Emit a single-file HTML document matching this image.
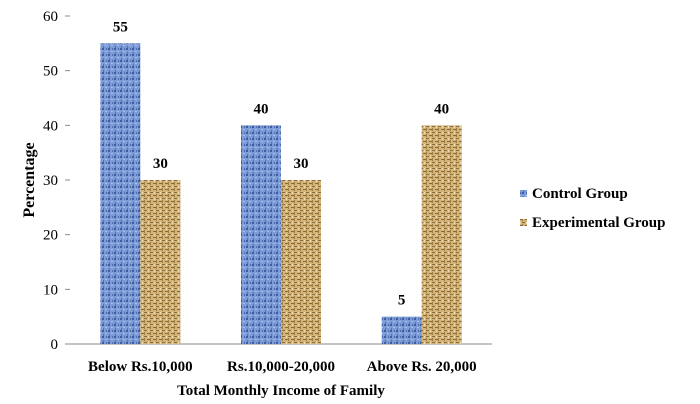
<!DOCTYPE html>
<html><head><meta charset="utf-8">
<style>
body{margin:0;background:#fff;}
svg{display:block;font-family:"Liberation Serif",serif;}
</style></head>
<body>
<svg id="chart" width="700" height="404" viewBox="0 0 700 404">
<defs>
<pattern id="pblue" width="6" height="6" patternUnits="userSpaceOnUse">
<rect width="6" height="6" fill="#7d9bd6"/>
<rect x="0" y="0" width="2" height="2" fill="#3c5c9c"/>
<rect x="3" y="3" width="2" height="1" fill="#a9c0ee"/>
<rect x="4" y="0" width="1" height="2" fill="#4f6fb0"/>
<rect x="1" y="4" width="1" height="2" fill="#5674b4"/>
</pattern>
<pattern id="ptan" width="6" height="6" patternUnits="userSpaceOnUse">
<rect width="6" height="6" fill="#d3b57a"/>
<rect x="0" y="0" width="3" height="1" fill="#8a6a36"/>
<rect x="3" y="3" width="3" height="1" fill="#8a6a36"/>
<rect x="0" y="2" width="1" height="3" fill="#9d7c42"/>
<rect x="4" y="0" width="1" height="2" fill="#f0dcae"/>
</pattern>
</defs>
<g id="axes"></g>
<g id="bars"></g>
<text x="34" y="180" transform="rotate(-90 34 180)" text-anchor="middle" font-size="16" font-weight="bold">Percentage</text>
<text x="281" y="395" text-anchor="middle" font-size="15" font-weight="bold">Total Monthly Income of Family</text>
<g>
<rect x="520" y="190" width="7" height="7" fill="url(#pblue)"/>
<text x="532" y="198" font-size="15" font-weight="bold">Control Group</text>
<rect x="520" y="219" width="7" height="7" fill="url(#ptan)"/>
<text x="532" y="227" font-size="15" font-weight="bold">Experimental Group</text>
</g>
</svg>
<script>
const categories=["Below Rs.10,000","Rs.10,000-20,000","Above Rs. 20,000"];
const controlValues=[55,40,5];
const experimentalValues=[30,30,40];
const yTicks=[0,10,20,30,40,50,60];
const NS="http://www.w3.org/2000/svg";
const left=70,right=492,y0=344,yTop=16,yMax=60;
const y=v=>y0-(v/yMax)*(y0-yTop);
const bw=(right-left)/categories.length;
const cx=i=>left+bw*(i+0.5);
const barW=40;
function mk(tag,attrs,parent,txt){const e=document.createElementNS(NS,tag);for(const k in attrs)e.setAttribute(k,attrs[k]);if(txt!==undefined)e.textContent=txt;parent.appendChild(e);return e;}
const axes=document.getElementById('axes'),bars=document.getElementById('bars');
const xl=mk('line',{x1:left,x2:right,y1:y0,y2:y0,stroke:'#888','stroke-width':1},axes);


yTicks.forEach(t=>{
 const tk=mk('line',{x1:left-5,x2:left,y1:y(t),y2:y(t),stroke:'#888'},axes);
 
 
 const lb=mk('text',{x:left-12,y:y(t)+5,'text-anchor':'end','font-size':15},axes,String(t));
 
 
});
categories.forEach((c,i)=>{
 const lb=mk('text',{x:cx(i),y:371,'text-anchor':'middle','font-size':15,'font-weight':'bold'},axes,c);
 
 
 [[controlValues,'url(#pblue)',-barW,'control'],[experimentalValues,'url(#ptan)',0,'experimental']].forEach(([arr,fill,off,nm])=>{
  const v=arr[i];
  const r=mk('rect',{x:cx(i)+off,y:y(v),width:barW,height:y0-y(v),fill:fill},bars);
  
  
  const t=mk('text',{x:cx(i)+off+barW/2,y:y(v)-12,'text-anchor':'middle','font-size':15,'font-weight':'bold'},bars,String(v));
  
  
 });
});
</script>
</body></html>
